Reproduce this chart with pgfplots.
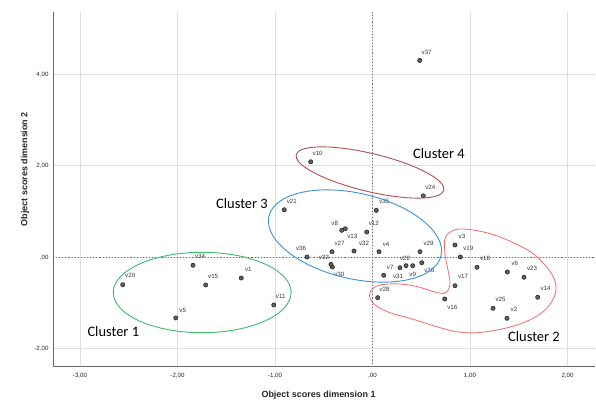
\documentclass[border=0pt]{standalone}
\usepackage{pgfplots}
\pgfplotsset{compat=1.18}
\usepackage{pgfplotstable}
\usepackage{fontspec}
\setmainfont{Liberation Sans}
\newfontfamily\carlito{Carlito}
\definecolor{gridc}{RGB}{222,222,222}
\definecolor{axc}{RGB}{105,105,105}
\definecolor{refc}{RGB}{110,110,110}
\definecolor{cA}{RGB}{60,185,105}
\definecolor{cB}{RGB}{245,105,105}
\definecolor{cC}{RGB}{60,145,215}
\definecolor{cD}{RGB}{175,80,80}

\pgfplotstableread{
x y label dx dy
-1.346 -0.452 v1 7 8.5
1.379 -1.332 v2 7 8.5
0.846 0.269 v3 7 8.5
0.067 0.122 v4 7 7.5
-2.018 -1.325 v5 7 8
1.383 -0.321 v6 7.5 8.5
0.115 -0.393 v7 6.5 8
-0.316 0.590 v8 -7 7
0.412 -0.183 v9 0 -8.5
-0.634 2.087 v10 7 8.5
-1.013 -1.041 v11 7 8.5
-0.059 0.552 v12 7 8.5
-0.279 0.624 v13 7 -8
1.694 -0.873 v14 8 8.5
-1.711 -0.605 v15 7.5 8.5
0.741 -0.910 v16 7.5 -8
0.846 -0.620 v17 8 9
1.072 -0.218 v18 8 8.5
0.901 0.007 v19 8 8.5
-2.562 -0.598 v20 7.5 9
-0.905 1.039 v21 7.5 8.5
0.344 -0.183 v22 -1 7.5
1.554 -0.437 v23 8 8.5
0.521 1.345 v24 7 8
1.236 -1.114 v25 7.5 9
0.505 -0.118 v26 7.5 -8
-0.415 0.122 v27 7.5 8.5
0.053 -0.882 v28 7 8.5
0.487 0.122 v29 8.5 8
-0.412 -0.212 v30 7 -7.5
0.282 -0.227 v31 -2 -9
-0.190 0.138 v32 10 8
-0.426 -0.153 v33 -7 7
-1.841 -0.175 v34 7 8.5
0.039 1.026 v35 8 8.5
-0.672 0.007 v36 -6 8.5
0.484 4.301 v37 7 8
}\datatable

\begin{document}
\begin{tikzpicture}
\useasboundingbox (-53bp,-34.3bp) rectangle (543bp,366.7bp);
\begin{axis}[
  at={(0,0)}, anchor=south west,
  scale only axis, width=542bp, height=354.7bp,
  xmin=-3.277, xmax=2.282, ymin=-2.39, ymax=5.36,
  axis x line*=bottom, axis y line*=left,
  axis line style={axc, line width=0.9bp, -},
  xtick={-3,-2,-1,0,1,2},
  xticklabels={{-3,00},{-2,00},{-1,00},{,00},{1,00},{2,00}},
  ytick={-2,0,2,4},
  yticklabels={{-2,00},{,00},{2,00},{4,00}},
  major tick length=0pt,
  tick label style={font=\fontsize{6.2}{7}\selectfont, text=black!85},
  xticklabel style={yshift=-2.5bp},
  yticklabel style={xshift=-1bp},
  grid=major, major grid style={gridc, line width=0.8bp},
  xlabel={Object scores dimension 1},
  ylabel={Object scores dimension 2},
  label style={font=\fontsize{9}{10}\selectfont\bfseries, text=black!85},
  xlabel style={at={(rel axis cs:0.49,0)}, anchor=center, yshift=-28.5bp},
  ylabel style={at={(rel axis cs:0,0.557)}, anchor=center, yshift=28bp},
  clip=false,
]
\draw[refc, line width=0.9bp, dash pattern=on 1.1bp off 2bp] (axis cs:0,-2.39) -- (axis cs:0,5.36);
\draw[refc, line width=0.9bp, dash pattern=on 1.1bp off 2bp] (axis cs:-3.277,0) -- (axis cs:2.282,0);
\addplot[only marks, mark=*, mark size=2.1bp,
  mark options={draw=black!85, fill=black!62, line width=0.6bp},
] table[x=x, y=y] {\datatable};
\addplot[only marks, mark=none, point meta=explicit symbolic,
  nodes near coords,
  every node near coord/.append style={anchor=center,
    font=\fontsize{6.2}{7}\selectfont, text=black!80, inner sep=0pt},
] table[x expr=\thisrow{x}+\thisrow{dx}/97.5, y expr=\thisrow{y}+\thisrow{dy}/45.8, meta=label] {\datatable};
\end{axis}
\begin{scope}[x=1bp, y=-1bp, shift={(-53bp,366.7bp)}]
\draw[cA, line width=0.9bp] (202.2,292.5) ellipse [x radius=88.9, y radius=40.2];
\draw[cC, line width=0.9bp, shift={(355,236)}, rotate=-12.9] (0,0) ellipse [x radius=88.3, y radius=42.8];
\draw[cD, line width=0.9bp, shift={(370,172.5)}, rotate=-13.5] (0,0) ellipse [x radius=76, y radius=19];
\draw[cB, line width=0.8bp] plot[smooth cycle, tension=0.6] coordinates {
(446,236) (456,229.5) (473,230) (493,234.5) (513,242.5) (531.5,252.5) (545,265)
(554,278.3) (556,290) (551.7,301.7) (541.7,312.7) (525,322) (503.3,328.7)
(476.7,332.7) (456.7,331.7) (436.7,326.7) (413.3,319.3) (390,312.7) (375,305)
(369.5,296) (373,288.3) (383.3,284.5) (400,284) (416.7,286.5) (433.3,291.5)
(443.3,293.5) (448.5,289.5) (450,281.7) (448,270) (445.3,256.7) (444.5,245)};
\node[font=\carlito\fontsize{14.5}{16}\selectfont] at (113.3,331.5) {Cluster 1};
\node[font=\carlito\fontsize{14.5}{16}\selectfont] at (534,337) {Cluster 2};
\node[font=\carlito\fontsize{14.5}{16}\selectfont] at (242,204) {Cluster 3};
\node[font=\carlito\fontsize{14.5}{16}\selectfont] at (439,154) {Cluster 4};
\end{scope}
\end{tikzpicture}
\end{document}
